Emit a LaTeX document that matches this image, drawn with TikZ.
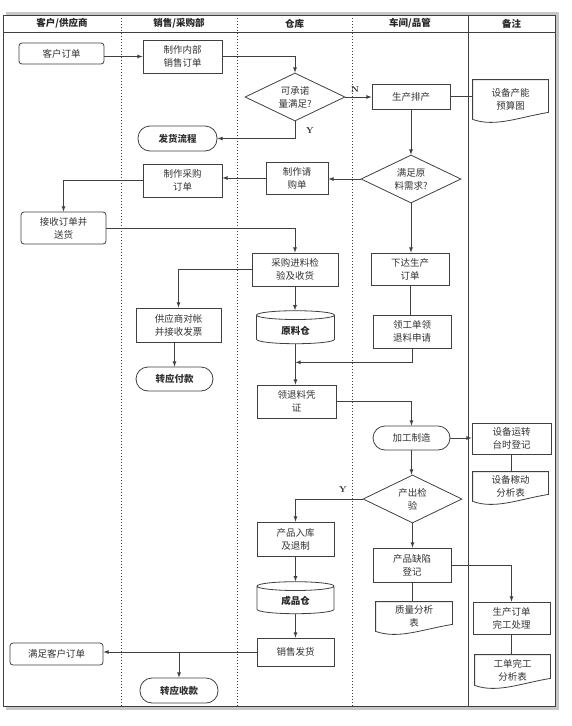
\documentclass[tikz,border=0pt]{standalone}
\usepackage{fontspec}
\newfontfamily\cjk{Noto Sans CJK SC}
\usepackage{tikz}
\usetikzlibrary{shapes.geometric, arrows, positioning, calc}

% Marco de documento con borde inferior ondulado
\newcommand{\docframe}[1]{%
  \draw[linea] (#1.north west) -- (#1.north east) -- ([yshift=7pt]#1.south east)
    .. controls ($(#1.south east)!0.4!(#1.south west)+(0,-2)$) and ($(#1.south east)!0.7!(#1.south west)+(0,8)$)
    .. (#1.south west) -- cycle;}

\begin{document}
\begin{tikzpicture}[x=1pt, y=-1pt, >=latex,
    linea/.style={draw=black!75, line width=0.8pt},
    caja/.style={linea, rectangle, minimum width=78pt, minimum height=33pt, align=center,
      inner sep=1pt, text=black!80, font=\cjk\fontsize{9.5}{13}\selectfont},
    redonda/.style={caja, rounded corners=3pt},
    terminal/.style={caja, rounded corners=12pt, minimum height=24pt,
      font=\cjk\bfseries\fontsize{9.5}{13}\selectfont},
    decision/.style={linea, diamond, shape aspect=2, minimum width=100pt, minimum height=48pt,
      align=center, inner sep=0pt, text=black!80, font=\cjk\fontsize{9.5}{13}\selectfont},
    almacen/.style={linea, cylinder, shape border rotate=90, aspect=0.25, minimum width=78pt,
      minimum height=33pt, text=black!85, font=\cjk\bfseries\fontsize{9.5}{13}\selectfont},
    documento/.style={caja, draw=none},
    cabecera/.style={text=black!85, font=\cjk\bfseries\fontsize{9.5}{12}\selectfont},
    etiq/.style={text=black!85, font=\rmfamily\bfseries\fontsize{8.5}{10}\selectfont},
    flecha/.style={linea, ->}]

    % Fondo y marco con sombra
    \fill[white] (0,0) rectangle (571,726);
    \useasboundingbox (0,0) rectangle (571,726);
    \fill[black!22] (6,12) rectangle (559,710);
    \fill[white] (3,15) rectangle (555,706);
    \draw[linea] (3,15) rectangle (555,706);
    \draw[linea] (3,32) -- (555,32);

    % Separadores de carriles
    \foreach \x in {121,237,352}
        \draw[linea, dash pattern=on 1pt off 2pt] (\x,15) -- (\x,706);
    \draw[linea] (468,15) -- (468,706);

    % Cabeceras
    \node[cabecera] (hcliente) at (62,23.5) {客户/供应商};
    \node[cabecera] (hventas) at (179,23.5) {销售/采购部};
    \node[cabecera] (halmacen) at (294.5,23.5) {仓库};
    \node[cabecera] (htaller) at (410,23.5) {车间/品管};
    \node[cabecera] (hnotas) at (511.5,23.5) {备注};

    % Pedido y planificacion
    \node[redonda, minimum width=85pt, minimum height=21pt] (pedido) at (61.5,53.5) {客户订单};
    \node[caja, minimum width=79pt] (interno) at (182.5,56.5) {制作内部\\销售订单};
    \node[decision] (promesa) at (295,97) {可承诺\\量满足?};
    \node[terminal, minimum width=79pt, minimum height=25pt] (envio) at (177.5,138.5) {发货流程};
    \node[caja, minimum height=25pt] (programa) at (411,96.5) {生产排产};
    \node[documento, minimum width=75pt, minimum height=39pt] (capacidad) at (510.5,99.5) {设备产能\\预算图};

    % Compras y materiales
    \node[decision] (material) at (411,179) {满足原\\料需求?};
    \node[caja, minimum width=62pt, minimum height=32pt] (solicitud) at (297,178) {制作请\\购单};
    \node[caja, minimum width=79pt] (ordencompra) at (182.5,180.5) {制作采购\\订单};
    \node[redonda, minimum width=85pt, minimum height=32pt] (recibe) at (63.5,228) {接收订单并\\送货};
    \node[caja, minimum width=86pt] (inspeccion) at (295,269.5) {采购进料检\\验及收货};
    \node[caja, minimum height=32pt] (ordenprod) at (410,269) {下达生产\\订单};
    \node[caja, minimum width=85pt, minimum height=34pt] (factura) at (178.5,325) {供应商对帐\\并接收发票};
    \node[almacen] (materias) at (295.5,330.5) {原料仓};
    \node[caja] (requisicion) at (412,331.5) {领工单领\\退料申请};
    \node[terminal, minimum width=77pt] (pagar) at (174.5,379) {转应付款};
    \node[caja, minimum width=79pt] (vale) at (296.5,401.5) {领退料凭\\证};

    % Fabricacion y control
    \node[terminal, minimum width=77pt, font=\cjk\fontsize{9.5}{13}\selectfont] (fabrica) at (411.5,438) {加工制造};
    \node[caja, minimum width=79pt, minimum height=31pt] (horas) at (511.5,438.5) {设备运转\\台时登记};
    \node[documento, minimum width=75pt, minimum height=29pt] (uso) at (510.5,486.5) {设备稼动\\分析表};
    \node[decision, minimum width=99pt] (control) at (412.5,499) {产出检\\验};
    \node[caja, minimum width=77pt, minimum height=34pt] (entrada) at (295.5,539) {产品入库\\及退制};
    \node[caja, minimum height=34pt] (defecto) at (412,565) {产品缺陷\\登记};
    \node[almacen, minimum width=77pt, minimum height=32pt] (terminados) at (295.5,601) {成品仓};
    \node[documento, minimum width=76pt, minimum height=29pt] (calidad) at (414,616.5) {质量分析\\表};
    \node[caja, minimum width=77pt, minimum height=32pt] (cierre) at (511.5,618) {生产订单\\完工处理};
    \node[caja, minimum width=77pt, minimum height=28pt] (venta) at (295.5,652) {销售发货};
    \node[redonda, minimum width=93pt, minimum height=22pt] (cumple) at (56.5,654) {满足客户订单};
    \node[documento, minimum width=75pt, minimum height=30pt] (analisis) at (512.5,670) {工单完工\\分析表};
    \node[terminal, minimum width=78pt, minimum height=25pt] (cobrar) at (179,690.5) {转应收款};

    \foreach \d in {capacidad, uso, calidad, analisis}
        \docframe{\d};

    % Conexiones
    \draw[flecha] (interno.west -| pedido.east) -- (interno.west);
    \draw[flecha] (interno.east) -| (promesa.north);
    \draw[flecha] (promesa.south) |- (envio.east);
    \node[etiq] (si1) at (310,131) {Y};
    \draw[flecha] (promesa.east) -- (promesa.east -| programa.west);
    \node[etiq] (no1) at (355,90) {N};
    \draw[linea] (programa.east) -- (programa.east -| capacidad.west);
    \draw[flecha] (programa.south) -- (material.north);
    \draw[flecha] (material.west) -- (material.west -| solicitud.east);
    \draw[flecha] (solicitud.west) -- (solicitud.west -| ordencompra.east);
    \draw[flecha] (ordencompra.west) -| (recibe.north);
    \draw[flecha] (recibe.east) -| (inspeccion.north);
    \draw[flecha] (inspeccion.west) -| (factura.north);
    \draw[flecha] (pagar.north |- factura.south) -- (pagar.north);
    \draw[flecha] (inspeccion.south) -- (inspeccion.south |- materias.north);
    \draw[flecha] (material.south) -- (material.south |- ordenprod.north);
    \draw[linea] (ordenprod.south) -- (ordenprod.south |- requisicion.north);
    \draw[flecha] (materias.south) -- (materias.south |- vale.north);
    \coordinate (union) at ($(materias.south)!0.45!(materias.south |- vale.north)$);
    \draw[flecha] (requisicion.south) |- (union);
    \draw[flecha] (vale.east) -| (fabrica.north);
    \draw[flecha] (fabrica.east) -- (fabrica.east -| horas.west);
    \draw[linea] (horas.south) -- (horas.south |- uso.north);
    \draw[flecha] (fabrica.south) -- (fabrica.south |- control.north);
    \draw[flecha] (control.west) -| (entrada.north);
    \node[etiq] (si2) at (343,490) {Y};
    \draw[flecha] (entrada.south) -- (entrada.south |- terminados.north);
    \draw[flecha] (terminados.south) -- (terminados.south |- venta.north);
    \draw[flecha] (control.south) -- (control.south |- defecto.north);
    \draw[linea] (defecto.south) -- (defecto.south |- calidad.north);
    \draw[flecha] (defecto.east) -| (cierre.north);
    \draw[linea] (cierre.south) -- (cierre.south |- analisis.north);
    \draw[flecha] (venta.west) -- (venta.west -| cumple.east);
    \draw[flecha] (cobrar.north |- venta.west) -- (cobrar.north);
\end{tikzpicture}
\end{document}
